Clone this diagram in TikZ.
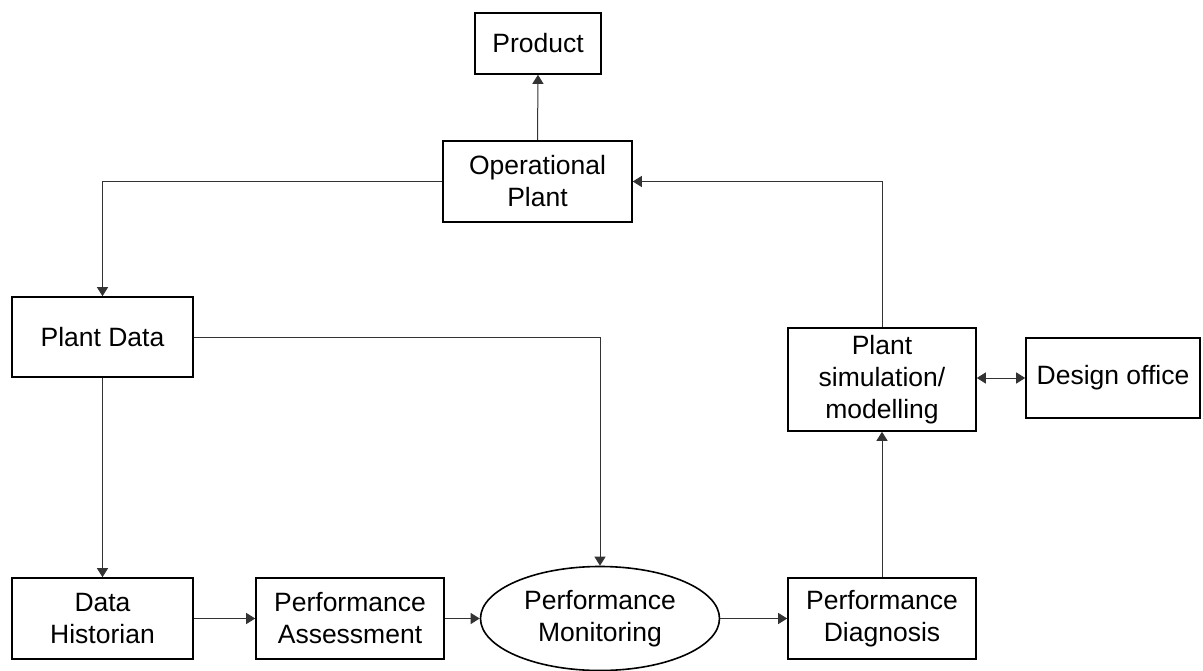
\documentclass[tikz,border=0pt]{standalone}
\usepackage{fontspec}
\setmainfont{Liberation Sans}
\usetikzlibrary{shapes.geometric,arrows.meta}
\begin{document}
\begin{tikzpicture}[x=1pt,y=-1pt,
  every node/.style={font=\fontsize{26.5}{32}\selectfont, align=center, inner sep=0pt},
  blk/.style={draw, line width=1.6pt, rectangle, minimum width=#1, minimum height=81pt},
  blk/.default=188pt,
  oval/.style={draw, line width=1.6pt, ellipse, minimum width=239pt, minimum height=104pt},
  tip/.style={Triangle[length=9pt,width=11pt]},
  link/.style={line width=1pt, draw=black!80, -{Triangle[length=9pt,width=11pt]}},
  twoway/.style={line width=1pt, draw=black!80, {Triangle[length=9pt,width=11pt]}-{Triangle[length=9pt,width=11pt]}}
]
\useasboundingbox[fill=white] (0,0) rectangle (1203,671);

% boxes
\node[blk=126pt, minimum height=61pt] (prod) at (538,43.5) {Product};
\node[blk=189pt] (op) at (537.5,181.5) {Operational\\Plant};
\node[blk=181pt, minimum height=80pt] (pd) at (102.5,337) {Plant Data};
\node[blk=188pt, minimum height=103pt] (sim) at (882,379.5) {Plant\\simulation/\\modelling};
\node[blk=174pt, minimum height=80pt] (des) at (1113,378) {Design office};
\node[blk=181pt] (hist) at (102.5,618.5) {Data\\Historian};
\node[blk=188pt] (pa) at (350,618.5) {Performance\\Assessment};
\node[oval] (mon) at (600,618.5) {Performance\\Monitoring};
\node[blk=188pt] (diag) at (882,618.5) {Performance\\Diagnosis};

% connectors
\draw[link] (op.north) -- (prod.south);
\draw[link] (op.west) -| (pd.north);
\draw[link] (pd.east) -| (mon.north);
\draw[link] (pd.south) -- (hist.north);
\draw[link] (hist.east) -- (pa.west);
\draw[link] (pa.east) -- (mon.west);
\draw[link] (mon.east) -- (diag.west);
\draw[link] (diag.north) -- (sim.south);
\draw[link] (sim.north) |- (op.east);
\draw[twoway] (sim.east |- des.west) -- (des.west);
\end{tikzpicture}
\end{document}
